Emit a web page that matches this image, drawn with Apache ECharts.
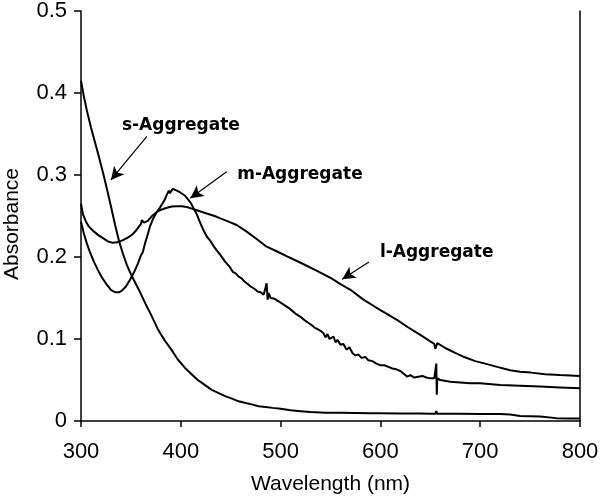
<!DOCTYPE html>
<html>
<head>
<meta charset="utf-8">
<script src="https://cdn.jsdelivr.net/npm/echarts@6/dist/echarts.min.js"></script>
<style>
html,body{margin:0;padding:0;background:#fff;}
#chart{width:600px;height:504px;}
</style>
</head>
<body>
<div id="chart"></div>
<script>
// ---- Data ----
var xTicks = [300, 400, 500, 600, 700, 800];
var yTicks = [0, 0.1, 0.2, 0.3, 0.4, 0.5];

var sWave = [300,303,306,310,314,318,322,326,330,334,338,342,346,350,355,360,365,370,377,384,390,397,404,410,417,424,431,438,445,452,458,465,472,478,485,492,500,510,520,530,545,560,575,590,600,620,640,650,655,656,657,660,680,700,720,730,740,760,776,790,800];
var sAbs  = [0.415,0.395,0.378,0.358,0.340,0.322,0.303,0.283,0.262,0.240,0.220,0.204,0.190,0.179,0.167,0.155,0.142,0.130,0.112,0.098,0.088,0.075,0.065,0.058,0.050,0.044,0.038,0.034,0.030,0.027,0.024,0.022,0.020,0.018,0.017,0.016,0.015,0.013,0.012,0.011,0.010,0.010,0.0098,0.0095,0.0095,0.009,0.009,0.0088,0.0088,0.012,0.0088,0.0088,0.0087,0.0086,0.0085,0.008,0.006,0.0055,0.0035,0.003,0.003];

var mWave = [300,303,306,309,313,317,321,326,330,334,338,341,345,349,353,357,360,362,364,367,369,372,376,379,382,384,386,388,389,391,392,394,396,397,399,401,404,406,408,410,413,416,420,423,426,430,433,436,440,444,449,452,455,458,461,463,467,470,474,477,480,483,485,486,487,488,490,494,498,503,508,512,516,520,525,530,534,537,540,543,545,547,549,551,553,555,557,560,563,566,569,572,575,578,581,585,588,592,596,600,604,608,612,616,620,624,627,630,634,638,642,646,650,654,656,656.5,657,660,670,680,690,700,720,740,760,780,800];
var mAbs  = [0.243,0.228,0.216,0.206,0.194,0.184,0.175,0.166,0.160,0.157,0.157,0.159,0.164,0.172,0.181,0.192,0.202,0.206,0.216,0.228,0.237,0.246,0.255,0.260,0.266,0.270,0.276,0.281,0.278,0.280,0.283,0.284,0.281,0.283,0.279,0.278,0.275,0.272,0.270,0.266,0.259,0.252,0.240,0.232,0.225,0.219,0.213,0.208,0.202,0.195,0.188,0.182,0.180,0.176,0.174,0.171,0.167,0.164,0.161,0.158,0.157,0.154,0.152,0.168,0.148,0.156,0.150,0.149,0.146,0.142,0.138,0.134,0.130,0.127,0.122,0.118,0.114,0.112,0.110,0.107,0.102,0.106,0.100,0.098,0.103,0.096,0.099,0.093,0.094,0.087,0.090,0.083,0.080,0.081,0.077,0.078,0.074,0.073,0.070,0.068,0.068,0.066,0.064,0.063,0.061,0.057,0.054,0.056,0.053,0.054,0.055,0.053,0.052,0.052,0.070,0.032,0.052,0.050,0.048,0.047,0.046,0.046,0.044,0.043,0.042,0.041,0.040];

var lWave = [300,302,305,308,312,317,322,327,331,336,341,346,351,355,358,360,361,363,365,367,369,372,376,381,386,391,396,401,406,411,416,426,436,446,456,466,476,486,496,506,520,535,551,560,570,583,595,606,617,628,640,650,654,655,656,657,665,675,684,695,705,717,730,740,751,765,780,800];
var lAbs  = [0.265,0.252,0.243,0.237,0.232,0.227,0.223,0.219,0.2175,0.218,0.220,0.223,0.227,0.232,0.237,0.240,0.245,0.242,0.240,0.244,0.247,0.251,0.255,0.258,0.260,0.2615,0.262,0.262,0.261,0.259,0.257,0.253,0.249,0.244,0.239,0.231,0.222,0.2126,0.207,0.201,0.193,0.184,0.174,0.167,0.160,0.148,0.139,0.131,0.123,0.114,0.105,0.097,0.094,0.088,0.090,0.095,0.089,0.083,0.078,0.073,0.070,0.066,0.062,0.060,0.059,0.057,0.056,0.055];

// Annotation labels and arrows (data coordinates)
var labelNames = ['s-Aggregate', 'm-Aggregate', 'l-Aggregate'];
var labelWave  = [341, 456.5, 599.5];
var labelAbs   = [0.3605, 0.300, 0.2055];
var arrowFrom  = [[366, 0.347], [446, 0.304], [588.5, 0.194]];
var arrowTo    = [[330, 0.294], [409.5, 0.2716], [561.7, 0.1728]];

function pairs(xs, ys) { return xs.map(function (x, i) { return [x, ys[i]]; }); }

var chart = echarts.init(document.getElementById('chart'), null, { renderer: 'canvas' });

var lineStyle = { color: '#000', width: 2 };
function curve(name, xs, ys) {
  return {
    name: name, type: 'line', data: pairs(xs, ys), showSymbol: false, symbol: 'none',
    lineStyle: lineStyle, itemStyle: { color: '#000' }, animation: false, z: 3
  };
}

var series = [
  curve('s', sWave, sAbs),
  curve('m', mWave, mAbs),
  curve('l', lWave, lAbs),
  {
    type: 'line', data: [], animation: false,
    markLine: {
      silent: true, animation: false,
      symbol: ['none', 'arrow'], symbolSize: [10, 13],
      lineStyle: { color: '#000', width: 1.2, type: 'solid' },
      label: { show: false },
      data: arrowFrom.map(function (f, i) {
        return [{ coord: f }, { coord: arrowTo[i] }];
      })
    }
  }
];

var titleFont = { fontFamily: 'Liberation Sans', fontSize: 21, color: '#000' };
var tickFont = { fontFamily: 'Liberation Sans', fontSize: 22, color: '#000' };

chart.setOption({
  backgroundColor: '#fff',
  animation: false,
  grid: { left: 81, right: 20, top: 11, bottom: 83, containLabel: false, outerBoundsMode: 'none' },
  xAxis: {
    type: 'value', min: xTicks[0], max: xTicks[xTicks.length - 1], interval: 100,
    name: 'Wavelength (nm)', nameLocation: 'middle', nameGap: 53,
    nameTextStyle: titleFont,
    axisLine: { show: true, onZero: false, lineStyle: { color: '#000', width: 1.5 } },
    axisTick: { show: true, inside: false, length: 6, lineStyle: { color: '#000', width: 1.5 } },
    axisLabel: Object.assign({ margin: 20 }, tickFont),
    splitLine: { show: false }
  },
  yAxis: [{
    type: 'value', min: yTicks[0], max: yTicks[yTicks.length - 1], interval: 0.1,
    name: 'Absorbance', nameLocation: 'middle', nameGap: 58,
    nameTextStyle: Object.assign({ padding: [0, 0, 0, -16] }, titleFont),
    axisLine: { show: true, onZero: false, lineStyle: { color: '#000', width: 1.5 } },
    axisTick: { show: true, inside: false, length: 7, lineStyle: { color: '#000', width: 1.5 } },
    axisLabel: Object.assign({ margin: 14, formatter: function (v) { return String(+v.toFixed(1)); } }, tickFont),
    splitLine: { show: false }
  }, {
    type: 'value', min: 0, max: 0.5, position: 'right',
    axisLine: { show: true, onZero: false, lineStyle: { color: '#000', width: 1.5 } },
    axisTick: { show: false }, axisLabel: { show: false }, splitLine: { show: false }
  }],
  series: series
});

// text labels placed through the chart's coordinate system
var g = labelNames.map(function (t, i) {
  var p = chart.convertToPixel({ gridIndex: 0 }, [labelWave[i], labelAbs[i]]);
  return {
    type: 'text', x: p[0], y: p[1], z: 10,
    style: {
      text: t, fill: '#000', font: 'bold 17px "DejaVu Sans"',
      textAlign: 'left', textVerticalAlign: 'middle'
    }
  };
});
chart.setOption({ graphic: g });
</script>
</body>
</html>
